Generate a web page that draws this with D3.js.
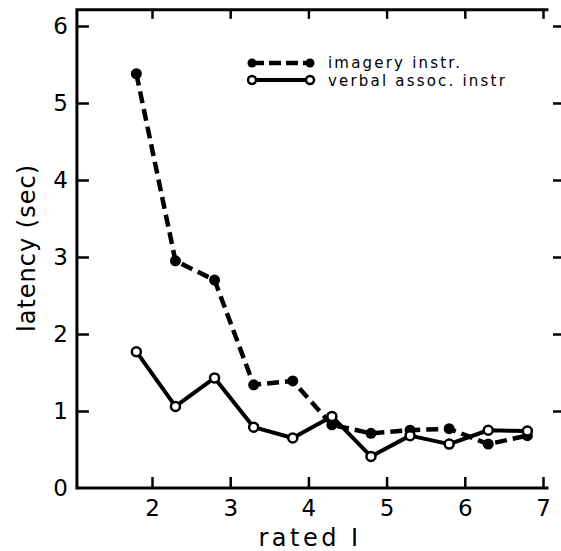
<!DOCTYPE html>
<html>
  <head>
    <meta charset="utf-8">
    <title>latency vs rated I</title>
    <script src="https://d3js.org/d3.v7.min.js"></script>
    <style>
      body { margin: 0; background: #fff; }
      text { font-family: "DejaVu Sans", sans-serif; fill: #000; }
    </style>
  </head>
  <body>
    <div id="chart"></div>
    <script>
      // rated I values (x) and latency in sec for each instruction
      var ratedI = [1.8, 2.3, 2.8, 3.3, 3.8, 4.3, 4.8, 5.3, 5.8, 6.3, 6.8];
      var imagery = [5.38, 2.95, 2.70, 1.34, 1.39, 0.82, 0.71, 0.75, 0.77, 0.57, 0.68];
      var verbal = [1.77, 1.06, 1.43, 0.79, 0.65, 0.93, 0.41, 0.68, 0.57, 0.75, 0.74];
      var xTicks = [2, 3, 4, 5, 6, 7];
      var yTicks = [0, 1, 2, 3, 4, 5, 6];

      var svg = d3.select("#chart")
        .append("svg")
        .attr("width", 561)
        .attr("height", 551);

      var x = d3.scaleLinear().domain([2, 7]).range([152, 543]);
      var y = d3.scaleLinear().domain([0, 6]).range([488, 26]);

      var frameL = x(1.04), frameR = x(7.07), frameT = y(6.21), frameB = y(0);

      // frame: top, left, bottom (right border is cut off)
      svg.append("path")
        .attr("d", "M" + frameR + "," + frameT + "H" + frameL + "V" + frameB + "H" + frameR)
        .attr("fill", "none")
        .attr("stroke", "#000")
        .attr("stroke-width", 3);

      // bottom axis
      var xAxis = svg.append("g")
        .attr("transform", "translate(0," + frameB + ")")
        .call(d3.axisBottom(x).tickValues(xTicks).tickSize(-11).tickPadding(12).tickFormat(d3.format("d")));
      xAxis.select(".domain").remove();
      xAxis.selectAll("line").attr("stroke-width", 2.5);
      xAxis.selectAll("text").attr("font-size", 23);

      // top ticks
      var xTop = svg.append("g")
        .attr("transform", "translate(0," + frameT + ")")
        .call(d3.axisTop(x).tickValues(xTicks).tickSize(-9).tickFormat(""));
      xTop.select(".domain").remove();
      xTop.selectAll("line").attr("stroke-width", 2.5);

      // left axis
      var yAxis = svg.append("g")
        .attr("transform", "translate(" + frameL + ",0)")
        .call(d3.axisLeft(y).tickValues(yTicks).tickSize(-12).tickPadding(9).tickFormat(d3.format("d")));
      yAxis.select(".domain").remove();
      yAxis.selectAll("line").attr("stroke-width", 2.5);
      yAxis.selectAll("text").attr("font-size", 23);
      yAxis.selectAll(".tick").filter(function(d) { return d === 0; }).select("line").remove();

      // right ticks
      var yRight = svg.append("g")
        .attr("transform", "translate(561,0)")
        .call(d3.axisRight(y).tickValues(yTicks.slice(1)).tickSize(-8).tickFormat(""));
      yRight.select(".domain").remove();
      yRight.selectAll("line").attr("stroke-width", 2.5);

      var line = d3.line()
        .x(function(d, i) { return x(ratedI[i]); })
        .y(function(d) { return y(d); });

      svg.append("path")
        .datum(verbal)
        .attr("d", line)
        .attr("fill", "none")
        .attr("stroke", "#000")
        .attr("stroke-width", 4)
        .attr("stroke-linejoin", "round");

      svg.append("path")
        .datum(imagery)
        .attr("d", line)
        .attr("fill", "none")
        .attr("stroke", "#000")
        .attr("stroke-width", 4.5)
        .attr("stroke-dasharray", "12,6");

      svg.selectAll(".dot-img")
        .data(imagery)
        .enter().append("circle")
        .attr("class", "dot-img")
        .attr("cx", function(d, i) { return x(ratedI[i]); })
        .attr("cy", function(d) { return y(d); })
        .attr("r", 5.5)
        .attr("fill", "#000");

      svg.selectAll(".dot-verb")
        .data(verbal)
        .enter().append("circle")
        .attr("class", "dot-verb")
        .attr("cx", function(d, i) { return x(ratedI[i]); })
        .attr("cy", function(d) { return y(d); })
        .attr("r", 4.5)
        .attr("fill", "#fff")
        .attr("stroke", "#000")
        .attr("stroke-width", 2.5);

      // legend
      var lg = svg.append("g");
      lg.append("line").attr("x1", 252).attr("x2", 310).attr("y1", 63).attr("y2", 63)
        .attr("stroke", "#000").attr("stroke-width", 4.5).attr("stroke-dasharray", "12,5");
      lg.append("circle").attr("cx", 252).attr("cy", 63).attr("r", 4.5).attr("fill", "#000");
      lg.append("circle").attr("cx", 310).attr("cy", 63).attr("r", 4.5).attr("fill", "#000");
      lg.append("text").attr("x", 328).attr("y", 68).attr("font-size", 15)
        .attr("letter-spacing", 2.2).text("imagery instr.");

      lg.append("line").attr("x1", 252).attr("x2", 310).attr("y1", 80).attr("y2", 80)
        .attr("stroke", "#000").attr("stroke-width", 4);
      lg.append("circle").attr("cx", 252).attr("cy", 80).attr("r", 4).attr("fill", "#fff")
        .attr("stroke", "#000").attr("stroke-width", 2.5);
      lg.append("circle").attr("cx", 310).attr("cy", 80).attr("r", 4).attr("fill", "#fff")
        .attr("stroke", "#000").attr("stroke-width", 2.5);
      lg.append("text").attr("x", 328).attr("y", 86).attr("font-size", 15)
        .attr("letter-spacing", 2.2).text("verbal assoc. instr");

      // axis titles
      svg.append("text")
        .attr("x", 310).attr("y", 546)
        .attr("text-anchor", "middle")
        .attr("font-size", 24)
        .attr("letter-spacing", 3.5)
        .text("rated I");

      svg.append("text")
        .attr("transform", "translate(35,248) rotate(-90)")
        .attr("text-anchor", "middle")
        .attr("font-size", 24)
        .attr("letter-spacing", 1)
        .text("latency (sec)");
    </script>
  </body>
</html>
